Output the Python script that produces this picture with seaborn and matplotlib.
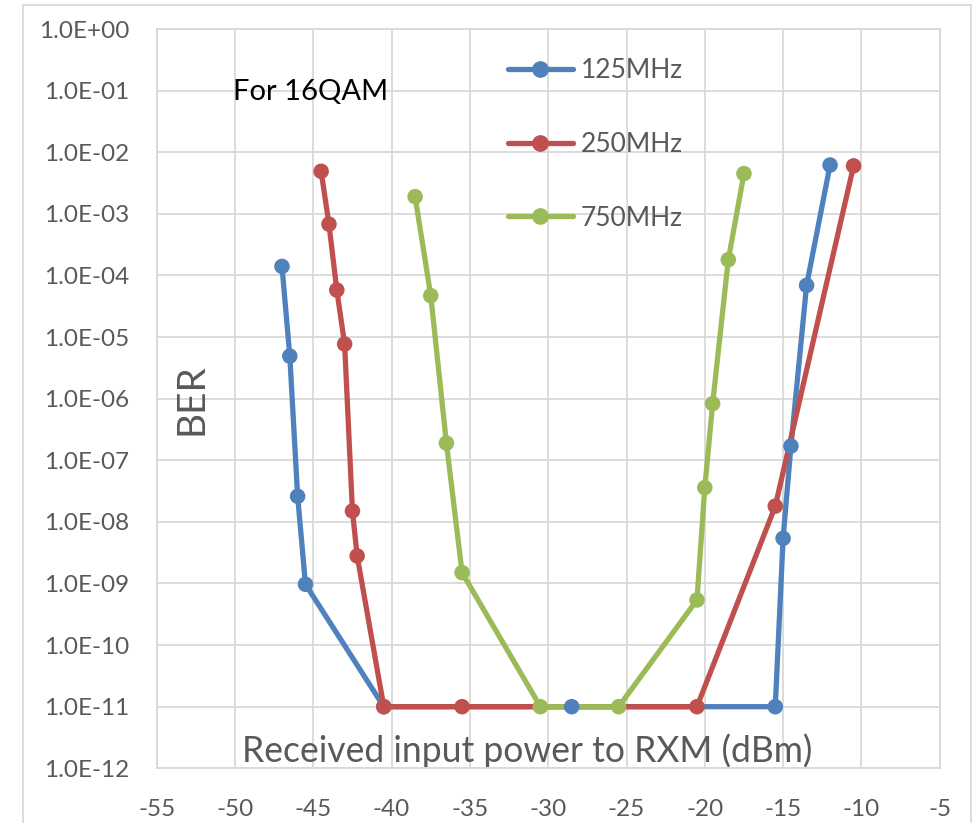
import numpy as np
import pandas as pd
import matplotlib
matplotlib.use("Agg")
import matplotlib.pyplot as plt
from matplotlib.lines import Line2D
from matplotlib.patches import Rectangle
from matplotlib.ticker import FuncFormatter, FixedLocator, NullLocator
import seaborn as sns

# ---- data ----
series_names = ["125MHz", "250MHz", "750MHz"]

power_125 = [-47.0, -46.5, -46.0, -45.5, -40.5, -28.5, -15.5, -15.0, -14.5, -13.5, -12.0]
ber_125 = [1.4e-4, 4.9e-6, 2.6e-8, 9.7e-10, 1e-11, 1e-11, 1e-11, 5.4e-9, 1.7e-7, 6.9e-5, 6.2e-3]

power_250 = [-44.5, -44.0, -43.5, -43.0, -42.5, -42.2, -40.5, -35.5, -20.5, -15.5, -10.5]
ber_250 = [4.9e-3, 6.8e-4, 5.8e-5, 7.7e-6, 1.5e-8, 2.8e-9, 1e-11, 1e-11, 1e-11, 1.8e-8, 6.0e-3]

power_750 = [-38.5, -37.5, -36.5, -35.5, -30.5, -25.5, -20.5, -20.0, -19.5, -18.5, -17.5]
ber_750 = [1.9e-3, 4.7e-5, 1.9e-7, 1.5e-9, 1e-11, 1e-11, 5.4e-10, 3.6e-8, 8.3e-7, 1.8e-4, 4.5e-3]

x_ticks = [-55, -50, -45, -40, -35, -30, -25, -20, -15, -10, -5]
y_ticks = [1e0, 1e-1, 1e-2, 1e-3, 1e-4, 1e-5, 1e-6, 1e-7, 1e-8, 1e-9, 1e-10, 1e-11, 1e-12]

title_text = "For 16QAM"
x_label = "Received input power to RXM (dBm)"
y_label = "BER"

colors = ["#4F81BD", "#C0504D", "#9BBB59"]

# ---- build long table ----
frames = []
for name, p, b in zip(series_names, [power_125, power_250, power_750], [ber_125, ber_250, ber_750]):
    frames.append(pd.DataFrame({"power": p, "ber": b, "series": name, "order": np.arange(len(p))}))
df = pd.concat(frames, ignore_index=True)

sns.set_theme(style="white")
plt.rcParams["font.family"] = ["Lato", "DejaVu Sans"]
plt.rcParams["axes.unicode_minus"] = False

W, H = 974, 823
fig = plt.figure(figsize=(W / 100, H / 100), dpi=100)
ax_l, ax_r, ax_t, ax_b = 156.7, 939.7, 29.0, 768.3
ax = fig.add_axes([ax_l / W, (H - ax_b) / H, (ax_r - ax_l) / W, (ax_b - ax_t) / H])

palette = dict(zip(series_names, colors))
lw = 3.8
sns.lineplot(data=df, x="power", y="ber", hue="series", hue_order=series_names,
             palette=palette, sort=False, estimator=None, units="series",
             legend=False, lw=lw, ax=ax, zorder=2)
sns.scatterplot(data=df, x="power", y="ber", hue="series", hue_order=series_names,
                palette=palette, s=125, linewidth=0, legend=False, ax=ax, zorder=3)

ax.set_yscale("log")
ax.set_xlim(-55, -5)
ax.set_ylim(1e-12, 1e0)
ax.xaxis.set_major_locator(FixedLocator(x_ticks))
ax.yaxis.set_major_locator(FixedLocator(y_ticks))
ax.yaxis.set_minor_locator(NullLocator())
ax.yaxis.set_major_formatter(FuncFormatter(lambda v, pos: f"{v:.1E}"))
ax.xaxis.set_major_formatter(FuncFormatter(lambda v, pos: f"{int(round(v))}"))

grid_c = "#D9D9D9"
ax.grid(True, which="major", color=grid_c, lw=1.3)
ax.set_axisbelow(True)
for s in ax.spines.values():
    s.set_color(grid_c)
    s.set_linewidth(1.3)

tick_c = "#595959"
ax.tick_params(axis="x", length=0, pad=22, labelsize=17.5, labelcolor=tick_c)
ax.tick_params(axis="y", length=0, pad=20, labelsize=17.5, labelcolor=tick_c)

ax.set_xlabel(x_label, fontsize=25.6, color=tick_c)
ax.xaxis.set_label_coords((527.5 - ax_l) / (ax_r - ax_l), (ax_b - 761.7) / (ax_b - ax_t))
ax.xaxis.label.set_va("baseline")
ax.set_ylabel(y_label, fontsize=28, color=tick_c)
ax.yaxis.set_label_coords((191 - ax_l) / (ax_r - ax_l), 0.5)
ax.yaxis.label.set_va("center")

ax.text((232.7 - ax_l) / (ax_r - ax_l), (ax_b - 100) / (ax_b - ax_t), title_text,
        transform=ax.transAxes, fontsize=21, color="black", ha="left", va="baseline")

handles = [Line2D([], [], color=c, lw=lw, marker="o", markersize=11) for c in colors]
leg = ax.legend(handles, series_names, loc="upper left",
                bbox_to_anchor=((508 - ax_l) / (ax_r - ax_l), (ax_b - 58) / (ax_b - ax_t)),
                frameon=False, fontsize=19, borderpad=0, borderaxespad=0,
                handlelength=2.45, handletextpad=0.3, labelspacing=1.85)
for t in leg.get_texts():
    t.set_color(tick_c)

# outer chart border
fig.add_artist(Rectangle((22.7 / W, (H - 830) / H), (970.7 - 22.7) / W, (830 - 5) / H,
                         transform=fig.transFigure, fill=False, edgecolor=grid_c, lw=1.3))

fig.savefig("out.png", dpi=100)
